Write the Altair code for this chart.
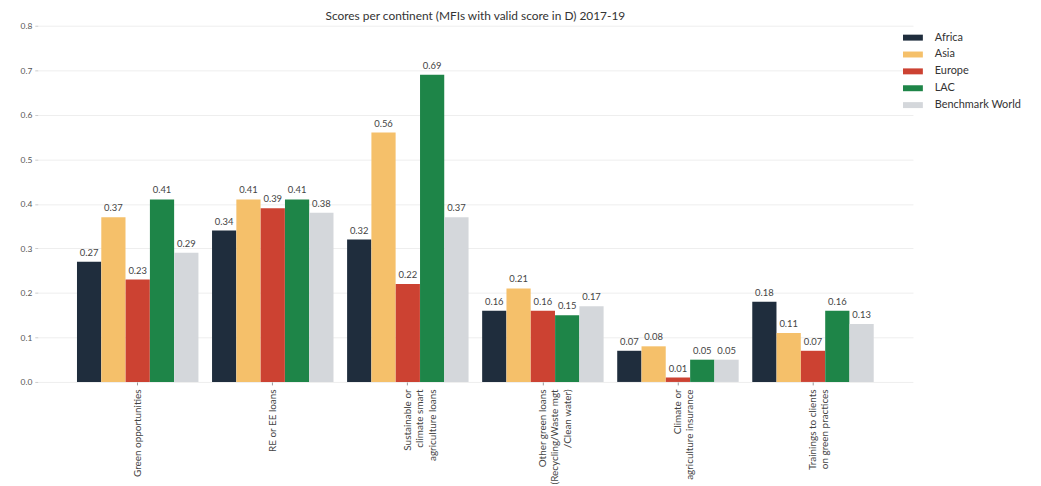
import altair as alt
import pandas as pd

categories = [
    "Green opportunities",
    "RE or EE loans",
    "Sustainable or climate smart agriculture loans",
    "Other green loans (Recycling/Waste mgt /Clean water)",
    "Climate or agriculture insurance",
    "Trainings to clients on green practices",
]
category_lines = [
    ["Green opportunities"],
    ["RE or EE loans"],
    ["Sustainable or", "climate smart", "agriculture loans"],
    ["Other green loans", "(Recycling/Waste mgt", "/Clean water)"],
    ["Climate or", "agriculture insurance"],
    ["Trainings to clients", "on green practices"],
]
series = ["Africa", "Asia", "Europe", "LAC", "Benchmark World"]
colors = ["#1f2d3d", "#f5c06a", "#cc4232", "#1e8548", "#d4d7db"]

africa = [0.27, 0.34, 0.32, 0.16, 0.07, 0.18]
asia = [0.37, 0.41, 0.56, 0.21, 0.08, 0.11]
europe = [0.23, 0.39, 0.22, 0.16, 0.01, 0.07]
lac = [0.41, 0.41, 0.69, 0.15, 0.05, 0.16]
benchmark = [0.29, 0.38, 0.37, 0.17, 0.05, 0.13]
y_ticks = [0, 0.1, 0.2, 0.3, 0.4, 0.5, 0.6, 0.7, 0.8]

values = [africa, asia, europe, lac, benchmark]
rows = []
for s, vals in zip(series, values):
    for c, v in zip(categories, vals):
        rows.append({"category": c, "series": s, "value": v})
df = pd.DataFrame(rows)

label_expr = "{" + ", ".join(
    '"{}": {}'.format(c, "[" + ", ".join('"{}"'.format(l) for l in lines) + "]")
    for c, lines in zip(categories, category_lines)
) + "}[datum.value]"

FONT = "Lato"

x_enc = alt.X(
    "category:N",
    sort=categories,
    scale=alt.Scale(paddingInner=0.1, paddingOuter=0.29),
    axis=alt.Axis(
        title=None,
        labelAngle=-90,
        labelAlign="right",
        labelBaseline="middle",
        labelExpr=label_expr,
        labelFont=FONT,
        labelFontSize=10,
        labelColor="#444",
        labelLineHeight=12.5,
        labelPadding=4,
        labelLimit=200,
        labelOverlap=False,
        tickSize=3,
        tickColor="#999",
        domain=False,
        grid=False,
    ),
)
xoff = alt.XOffset("series:N", sort=series, scale=alt.Scale(paddingInner=0, paddingOuter=0))

bars = alt.Chart(df).mark_bar(size=24.4).encode(
    x=x_enc,
    xOffset=xoff,
    y=alt.Y(
        "value:Q",
        scale=alt.Scale(domain=[0, 0.8], nice=False),
        axis=alt.Axis(
            title=None,
            format=".1f",
            values=y_ticks,
            labelOverlap=False,
            labelFont=FONT,
            labelFontSize=8.5,
            labelColor="#555",
            tickSize=3,
            tickColor="#ccc",
            domain=False,
            gridColor="#eeeeee",
            labelPadding=3,
        ),
    ),
    color=alt.Color(
        "series:N",
        sort=series,
        scale=alt.Scale(domain=series, range=colors),
        legend=alt.Legend(
            title=None,
            orient="none",
            legendX=872,
            legendY=2,
            symbolType="M-1,-0.3L1,-0.3L1,0.3L-1,0.3Z",
            symbolSize=400,
            symbolStrokeWidth=0,
            labelFont=FONT,
            labelFontSize=11,
            labelColor="#333",
            rowPadding=2,
            labelOffset=12,
        ),
    ),
)

labels = alt.Chart(df).mark_text(
    dy=-9, font=FONT, fontSize=9.5, color="#444"
).encode(
    x=alt.X("category:N", sort=categories),
    xOffset=alt.XOffset("series:N", sort=series),
    y="value:Q",
    text=alt.Text("value:Q", format=".2f"),
)

chart = (
    alt.layer(bars, labels)
    .properties(
        width=882,
        height=359,
        title=alt.TitleParams(
            "Scores per continent (MFIs with valid score in D) 2017-19",
            font=FONT,
            fontSize=12,
            fontWeight="normal",
            color="#333",
            offset=0,
            dy=1,
        ),
        autosize=alt.AutoSizeParams(type="none"),
        padding={"left": 30, "top": 16, "right": 121, "bottom": 103},
    )
    .configure_view(stroke=None)
)

chart.save("out.html", embed_options={"renderer": "svg", "actions": False})
